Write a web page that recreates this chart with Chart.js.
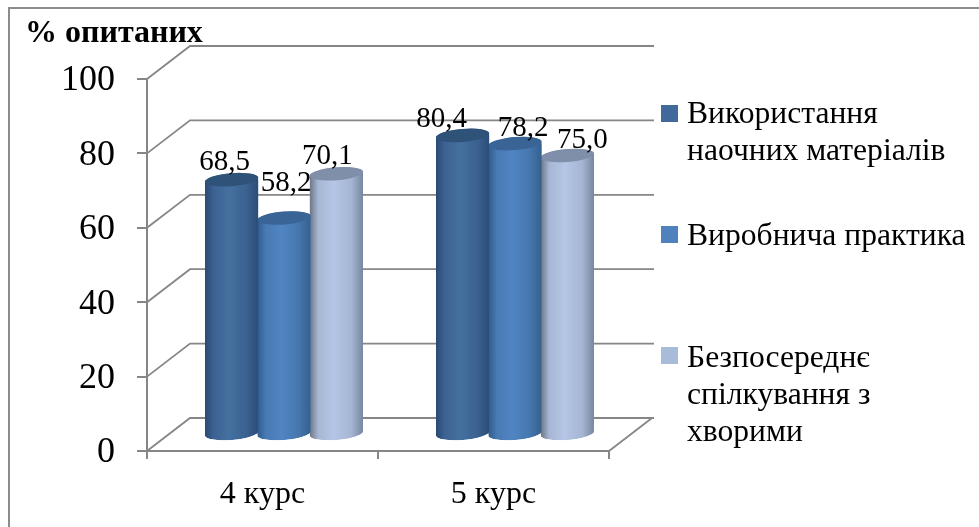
<!DOCTYPE html>
<html>
<head>
<meta charset="utf-8">
<script src="https://cdn.jsdelivr.net/npm/chart.js@4"></script>
<style>
  html, body { margin: 0; padding: 0; background: #fff; }
  #box { width: 979px; height: 527px; }
</style>
</head>
<body>
<div id="box"><canvas id="myChart"></canvas></div>
<script>
const courses = ["4 курс", "5 курс"];
const seriesNames = ["Використання наочних матеріалів", "Виробнича практика", "Безпосереднє спілкування з хворими"];
const visualAids = [68.5, 80.4];
const practice = [58.2, 78.2];
const patientContact = [70.1, 75.0];
const yTicks = [0, 20, 40, 60, 80, 100];
const yTitle = "% опитаних";

// legend text split the way it wraps in the picture
const legendLines = [
  ["Використання", "наочних матеріалів"],
  ["Виробнича практика"],
  ["Безпосереднє", "спілкування з", "хворими"]
];

const FONT = '"Liberation Serif", "Times New Roman", serif';
const GRID = "#868686";
const DEPTH_X = 43, DEPTH_Y = 33;          // back wall offset
const RY = 6.5, TILT = -0.08;              // cylinder ellipse

const looks = [
  { swatch: "#41699b", top: "#2f5279", stops: ["#294a73", "#3c6292", "#44709f", "#3b6190", "#2b4d78"] },
  { swatch: "#4f81bd", top: "#3a6496", stops: ["#2f5a8e", "#487ab3", "#5085c3", "#4676ad", "#35608f"] },
  { swatch: "#a8bbd9", top: "#7f8fa9", stops: ["#6d7585", "#a6b6d3", "#b5c6e6", "#a5b5d3", "#78879f"] }
];
// hand placed data labels, relative to the top of each cylinder
const labelShift = [
  [[-7, -20], [-21, -18]],
  [[2, -37], [8, -18]],
  [[-9, -20], [15, -18]]
];

function silhouette(ctx, bar, base) {
  const rx = bar.width / 2;
  ctx.moveTo(bar.x - rx, bar.y);
  ctx.lineTo(bar.x - rx, base);
  ctx.ellipse(bar.x, base, rx, RY, TILT, Math.PI, 0, true);
  ctx.lineTo(bar.x + rx, bar.y);
  ctx.ellipse(bar.x, bar.y, rx, RY, TILT, 0, Math.PI, true);
  ctx.closePath();
}

const cylinders = {
  id: "cylinders",
  beforeDatasetDraw(chart, args) {
    const ctx = chart.ctx;
    ctx.save();
    ctx.translate(DEPTH_X / 2, -DEPTH_Y / 2);
    ctx.beginPath();
    args.meta.data.forEach(bar => silhouette(ctx, bar, bar.base));
    ctx.clip();
  },
  afterDatasetDraw(chart, args) {
    const ctx = chart.ctx;
    const look = looks[args.index];
    args.meta.data.forEach(bar => {
      const g = ctx.createLinearGradient(bar.x - bar.width / 2, 0, bar.x + bar.width / 2, 0);
      [0, 0.16, 0.45, 0.78, 1].forEach((p, i) => g.addColorStop(p, look.stops[i]));
      ctx.fillStyle = g;
      ctx.beginPath();
      silhouette(ctx, bar, bar.base);
      ctx.fill();
    });
    ctx.restore();
    ctx.save();
    ctx.translate(DEPTH_X / 2, -DEPTH_Y / 2);
    args.meta.data.forEach(bar => {
      ctx.fillStyle = look.top;
      ctx.beginPath();
      ctx.ellipse(bar.x, bar.y, bar.width / 2, RY, TILT, 0, Math.PI * 2);
      ctx.fill();
    });
    ctx.restore();
  }
};

const walls = {
  id: "walls",
  beforeDatasetsDraw(chart) {
    const ctx = chart.ctx, y = chart.scales.y, area = chart.chartArea;
    ctx.save();
    ctx.strokeStyle = GRID;
    ctx.lineWidth = 1.8;
    yTicks.forEach(t => {
      const py = y.getPixelForValue(t);
      ctx.beginPath();
      ctx.moveTo(area.left, py);
      ctx.lineTo(area.left + DEPTH_X, py - DEPTH_Y);
      ctx.lineTo(area.right + DEPTH_X + 2, py - DEPTH_Y);
      ctx.stroke();
    });
    ctx.beginPath();
    ctx.moveTo(area.right, area.bottom);
    ctx.lineTo(area.right + DEPTH_X, area.bottom - DEPTH_Y);
    ctx.stroke();
    ctx.restore();
  }
};

const annotate = {
  id: "annotate",
  beforeDraw(chart) {
    const ctx = chart.ctx;
    ctx.save();
    ctx.strokeStyle = "#8c8c8c";
    ctx.lineWidth = 2;
    ctx.beginPath();
    ctx.moveTo(9, chart.height);
    ctx.lineTo(9, 8);
    ctx.lineTo(chart.width, 8);
    ctx.stroke();
    ctx.restore();
  },
  afterDraw(chart) {
    const ctx = chart.ctx;
    ctx.save();
    ctx.fillStyle = "#000";
    ctx.textBaseline = "alphabetic";

    // data labels
    ctx.font = "29px " + FONT;
    ctx.textAlign = "center";
    chart.data.datasets.forEach((ds, i) => {
      chart.getDatasetMeta(i).data.forEach((bar, j) => {
        const s = labelShift[i][j];
        const text = ds.data[j].toFixed(1).replace(".", ",");
        ctx.fillText(text, bar.x + DEPTH_X / 2 + s[0], bar.y - DEPTH_Y / 2 + s[1] + 10);
      });
    });

    // axis title
    ctx.textAlign = "left";
    ctx.font = "bold 32px " + FONT;
    ctx.fillText(yTitle, 25, 42);

    // legend
    const rows = [123, 245, 367];
    const swatchTop = [105, 226, 347];
    ctx.font = "31.6px " + FONT;
    legendLines.forEach((lines, i) => {
      ctx.fillStyle = looks[i].swatch;
      ctx.fillRect(661, swatchTop[i], 17, 17);
      ctx.fillStyle = "#000";
      lines.forEach((line, k) => ctx.fillText(line, 687, rows[i] + k * 37));
    });
    ctx.restore();
  }
};

new Chart("myChart", {
  type: "bar",
  data: {
    labels: courses,
    datasets: [
      { label: seriesNames[0], data: visualAids, backgroundColor: looks[0].swatch, clip: false },
      { label: seriesNames[1], data: practice, backgroundColor: looks[1].swatch, clip: false },
      { label: seriesNames[2], data: patientContact, backgroundColor: looks[2].swatch, clip: false }
    ]
  },
  plugins: [walls, cylinders, annotate],
  options: {
    responsive: true,
    maintainAspectRatio: false,
    animation: false,
    layout: { padding: { left: 47, top: 79, right: 370, bottom: 16 } },
    datasets: { bar: { categoryPercentage: 0.68, barPercentage: 1.02 } },
    plugins: { legend: { display: false }, tooltip: { enabled: false }, title: { display: false } },
    scales: {
      x: {
        afterFit(scale) { scale.height = 60; },
        border: { color: GRID, width: 2 },
        grid: { color: GRID, lineWidth: 2, drawOnChartArea: false, tickLength: 8 },
        ticks: { color: "#000", font: { family: FONT, size: 32 }, padding: 16, maxRotation: 0 }
      },
      y: {
        min: 0,
        max: 100,
        afterFit(scale) { scale.width = 100; },
        afterBuildTicks(scale) { scale.ticks = yTicks.map(v => ({ value: v })); },
        border: { color: GRID, width: 2 },
        grid: { color: GRID, lineWidth: 2, drawOnChartArea: false, tickLength: 10 },
        ticks: { color: "#000", font: { family: FONT, size: 36 }, padding: 22, labelOffset: 2 }
      }
    }
  }
});
</script>
</body>
</html>
